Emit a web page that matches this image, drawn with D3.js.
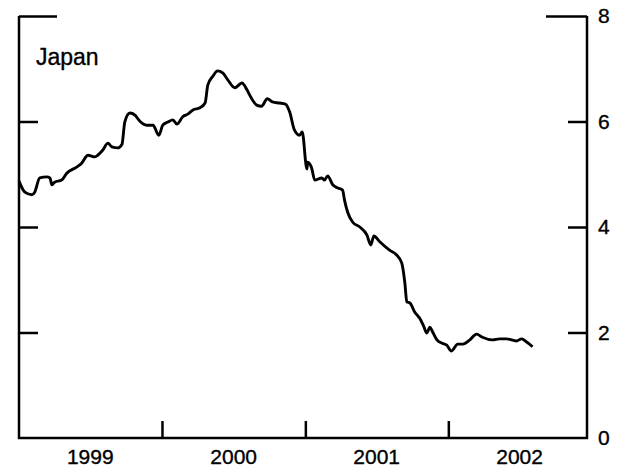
<!DOCTYPE html>
<html>
<head>
<meta charset="utf-8">
<script src="https://cdn.jsdelivr.net/npm/d3@7"></script>
<style>
  body { margin: 0; background: #fff; }
  svg { display: block; font-family: "Liberation Sans", Arial, Helvetica, sans-serif; }
  svg text { stroke: #000; stroke-width: 0.35px; }
</style>
</head>
<body>
<svg id="svg" width="629" height="470"></svg>
<script>
// weekly-ish readings, percent
const dates = [
  "1999-01-01","1999-01-16","1999-02-03","1999-02-10","1999-02-23","1999-03-13","1999-03-21","1999-03-26",
  "1999-04-02","1999-04-20","1999-05-03","1999-05-29","1999-06-10","1999-06-26","1999-07-14","1999-07-21",
  "1999-08-03","1999-08-16","1999-08-26","1999-09-10","1999-09-21","1999-09-28","1999-10-11","1999-10-24",
  "1999-11-05","1999-11-23","1999-12-09","1999-12-24","2000-01-03","2000-01-16","2000-01-29","2000-02-08",
  "2000-02-23","2000-03-07","2000-03-20","2000-04-07","2000-04-20","2000-04-27","2000-05-10","2000-05-22",
  "2000-06-04","2000-06-17","2000-07-05","2000-07-23","2000-08-05","2000-08-12","2000-08-30","2000-09-11",
  "2000-09-26","2000-10-09","2000-10-27","2000-11-11","2000-11-22","2000-12-04","2000-12-17","2000-12-24",
  "2001-01-05","2001-01-07","2001-01-17","2001-01-25","2001-02-12","2001-02-19","2001-02-27","2001-03-12",
  "2001-03-25","2001-04-06","2001-04-11","2001-04-19","2001-05-02","2001-05-20","2001-06-07","2001-06-17",
  "2001-06-25","2001-07-10","2001-08-04","2001-08-22","2001-09-04","2001-09-12","2001-09-17","2001-09-25",
  "2001-10-07","2001-10-20","2001-10-30","2001-11-07","2001-11-15","2001-11-22","2001-12-03","2001-12-15",
  "2001-12-28","2002-01-09","2002-01-25","2002-02-07","2002-02-25","2002-03-14","2002-03-29","2002-04-24",
  "2002-05-12","2002-05-30","2002-06-24","2002-07-07","2002-07-20","2002-08-04"
]
const japan = [
  4.87,4.66,4.61,4.66,4.93,4.95,4.93,4.80,
  4.85,4.89,5.02,5.14,5.21,5.36,5.33,5.36,
  5.46,5.59,5.52,5.50,5.57,5.99,6.16,6.12,
  6.01,5.93,5.93,5.74,5.93,5.99,6.03,5.95,
  6.09,6.14,6.22,6.26,6.35,6.69,6.86,6.96,
  6.92,6.79,6.64,6.73,6.60,6.50,6.31,6.29,
  6.43,6.37,6.35,6.33,6.18,5.84,5.74,5.80,
  5.10,5.23,5.12,4.89,4.93,4.89,4.97,4.80,
  4.74,4.70,4.51,4.28,4.09,4.00,3.85,3.66,
  3.83,3.72,3.56,3.47,3.32,2.94,2.58,2.56,
  2.39,2.27,2.12,1.99,2.10,2.01,1.86,1.80,
  1.76,1.65,1.78,1.78,1.86,1.97,1.91,1.86,
  1.88,1.88,1.84,1.88,1.82,1.73
]
const years = [1999, 2000, 2001, 2002]
const yTicks = [0, 2, 4, 6, 8]

const parse = d3.timeParse("%Y-%m-%d")
const data = dates.map((d, i) => ({ date: parse(d), value: japan[i] }))

const svg = d3.select("#svg")
const m = { left: 19, right: 587, top: 16, bottom: 438 }

const x = d3.scaleTime()
    .domain([new Date(1999, 0, 1), new Date(2002, 11, 21)])
    .range([m.left, m.right])
const y = d3.scaleLinear()
    .domain([0, 8])
    .range([m.bottom, m.top])

// frame: left, bottom, right
svg.append("path")
    .attr("d", `M${m.left},${m.top}V${m.bottom}H${m.right}V${m.top}`)
    .attr("fill", "none")
    .attr("stroke", "#000")
    .attr("stroke-width", 2.5)

// right axis with labels
const rightAxis = svg.append("g")
    .attr("transform", `translate(${m.right},0)`)
    .call(d3.axisRight(y).tickValues(yTicks).tickSize(-19).tickPadding(11).tickFormat(d3.format("d")))
rightAxis.select(".domain").remove()
rightAxis.selectAll(".tick line")
    .attr("x2", d => d === 8 ? -41 : d === 0 ? 0 : -19)
    .attr("stroke-width", 2.5)
rightAxis.selectAll(".tick text")
    .attr("font-size", 21)
    .attr("font-family", "Liberation Sans, Arial, sans-serif")
    .attr("fill", "#000")

// left axis ticks, no labels
const leftAxis = svg.append("g")
    .attr("transform", `translate(${m.left},0)`)
    .call(d3.axisLeft(y).tickValues([2, 4, 6, 8]).tickSize(-19).tickFormat(""))
leftAxis.select(".domain").remove()
leftAxis.selectAll(".tick line")
    .attr("x2", d => d === 8 ? 38 : 19)
    .attr("stroke-width", 2.5)

// bottom axis: year boundaries as ticks, labels mid-year
const bottomAxis = svg.append("g")
    .attr("transform", `translate(0,${m.bottom})`)
    .call(d3.axisBottom(x).tickValues(years.slice(1).map(yr => new Date(yr, 0, 1))).tickSize(-17).tickFormat(""))
bottomAxis.select(".domain").remove()
bottomAxis.selectAll(".tick line").attr("stroke-width", 2.5)

svg.selectAll(".year")
    .data(years)
    .enter().append("text")
        .attr("class", "year")
        .attr("x", d => x(new Date(d, 6, 2)))
        .attr("y", 464)
        .attr("text-anchor", "middle")
        .attr("font-size", 21)
        .text(d => d)

// the series
const line = d3.line()
    .x(d => x(d.date))
    .y(d => y(d.value))
    .curve(d3.curveMonotoneX)

svg.append("path")
    .datum(data)
    .attr("d", line)
    .attr("fill", "none")
    .attr("stroke", "#000")
    .attr("stroke-width", 2.9)
    .attr("stroke-linejoin", "round")

svg.append("text")
    .attr("x", 36)
    .attr("y", 65)
    .attr("font-size", 23)
    .text("Japan")
</script>
</body>
</html>
